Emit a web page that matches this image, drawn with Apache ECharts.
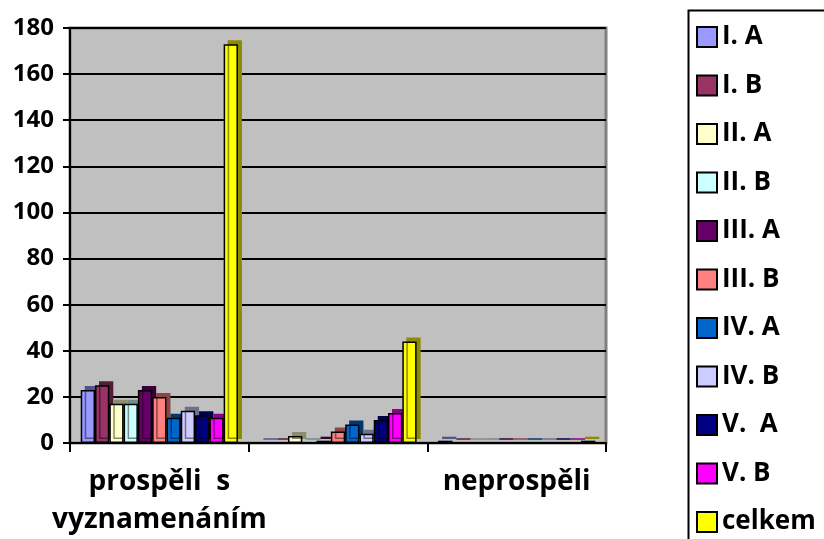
<!DOCTYPE html>
<html>
<head>
<meta charset="utf-8">
<script src="https://cdn.jsdelivr.net/npm/echarts@6/dist/echarts.min.js"></script>
<style>
  html, body { margin: 0; padding: 0; background: #fff; }
  #chart { width: 824px; height: 539px; }
</style>
</head>
<body>
<div id="chart"></div>
<script>
// Categories (the middle one is hidden by Excel's label skipping)
const categories = ["prospěli  s\nvyznamenáním", "prospěli", "neprospěli"];

// Series names
const seriesNames = ["I. A", "I. B", "II. A", "II. B", "III. A", "III. B", "IV. A", "IV. B", "V.  A", "V. B", "celkem"];

// Series values (per category)
const valIA     = [23, 0, 1];
const valIB     = [25, 0, 0];
const valIIA    = [17, 3, 0];
const valIIB    = [17, 0, 0];
const valIIIA   = [23, 1, 0];
const valIIIB   = [20, 5, 0];
const valIVA    = [11, 8, 0];
const valIVB    = [14, 4, 0];
const valVA     = [12, 10, 0];
const valVB     = [11, 13, 0];
const valCelkem = [173, 44, 1];

const seriesValues = [valIA, valIB, valIIA, valIIB, valIIIA, valIIIB, valIVA, valIVB, valVA, valVB, valCelkem];

// Y axis ticks
const yMin = 0, yMax = 180, yStep = 20;

const colors = ["#9999FF", "#993366", "#FFFFCC", "#CCFFFF", "#660066", "#FF8080", "#0066CC", "#CCCCFF", "#000080", "#FF00FF", "#FFFF00"];

function darken(hex, f) {
  const n = parseInt(hex.slice(1), 16);
  const r = Math.round(((n >> 16) & 255) * f);
  const g = Math.round(((n >> 8) & 255) * f);
  const b = Math.round((n & 255) * f);
  return "rgb(" + r + "," + g + "," + b + ")";
}

const FONT = "'Open Sans', 'DejaVu Sans', sans-serif";

const chart = echarts.init(document.getElementById("chart"), null, { renderer: "canvas" });

const series = seriesNames.map((name, i) => ({
  name: name,
  type: "bar",
  data: seriesValues[i],
  barGap: "0%",
  barCategoryGap: "12%",
  itemStyle: {
    color: colors[i],
    borderColor: "#000",
    borderWidth: 1.5,
    shadowColor: darken(colors[i], 0.55),
    shadowBlur: 0,
    shadowOffsetX: 4,
    shadowOffsetY: -4
  },
  emphasis: { disabled: true },
  animation: false
}));

chart.setOption({
  animation: false,
  color: colors,
  grid: {
    left: 70,
    right: 218,
    top: 28,
    bottom: 95,
    show: true,
    backgroundColor: "#C0C0C0",
    borderColor: "#808080",
    borderWidth: 3,
    containLabel: false
  },
  graphic: [{
    type: "rect",
    left: 686,
    top: 8,
    shape: { width: 200, height: 600 },
    style: { fill: "none", stroke: "#000", lineWidth: 2 },
    silent: true,
    z: 1
  }],
  legend: {
    orient: "vertical",
    left: 696,
    top: 24,
    padding: 0,
    itemWidth: 20,
    itemHeight: 20,
    itemGap: 22.5,
    icon: "rect",
    selectedMode: false,
    itemStyle: {
      borderColor: "#000",
      borderWidth: 2,
      shadowBlur: 0,
      shadowOffsetX: 0,
      shadowOffsetY: 0,
      shadowColor: "rgba(0,0,0,0)"
    },
    textStyle: {
      fontFamily: FONT,
      fontWeight: "bold",
      fontSize: 26,
      color: "#000",
      padding: [0, 0, 0, 0]
    },
    data: seriesNames
  },
  xAxis: {
    type: "category",
    data: categories,
    axisLine: { show: true, lineStyle: { color: "#000", width: 2 } },
    axisTick: { show: true, interval: 0, length: 9, lineStyle: { color: "#000", width: 2 } },
    axisLabel: {
      interval: 1,
      margin: 20,
      fontFamily: FONT,
      fontWeight: "bold",
      fontSize: 28,
      lineHeight: 38,
      color: "#000"
    },
    splitLine: { show: false }
  },
  yAxis: {
    type: "value",
    min: yMin,
    max: yMax,
    interval: yStep,
    axisLine: { show: true, lineStyle: { color: "#000", width: 2 } },
    axisTick: { show: true, length: 7, lineStyle: { color: "#000", width: 2 } },
    axisLabel: {
      margin: 16,
      fontFamily: FONT,
      fontWeight: "bold",
      fontSize: 24,
      color: "#000"
    },
    splitLine: { show: true, lineStyle: { color: "#000", width: 2 } }
  },
  series: series
});
</script>
</body>
</html>
